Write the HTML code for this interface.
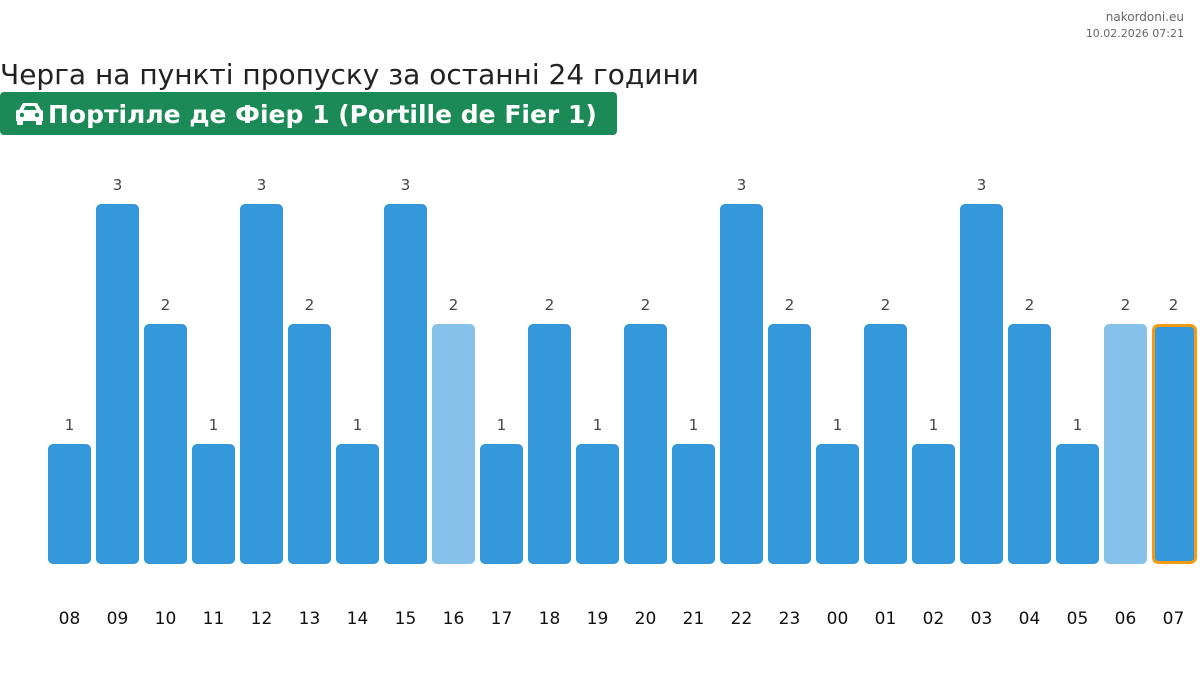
<!DOCTYPE html>
<html><head><meta charset="utf-8"><style>
body{margin:0;background:#fff;width:1200px;height:684px;overflow:hidden;font-family:"DejaVu Sans",sans-serif}
</style></head><body>
<svg width="1200" height="684" xmlns="http://www.w3.org/2000/svg" font-family="DejaVu Sans, sans-serif">
<text x="1184" y="21" font-size="12" fill="#666" text-anchor="end">nakordoni.eu</text>
<text x="1184" y="37" font-size="11" fill="#666" text-anchor="end">10.02.2026 07:21</text>
<text x="0" y="84" font-size="28" fill="#222">Черга на пункті пропуску за останні 24 години</text>
<rect x="0" y="92" width="617" height="43" rx="4" fill="#1b8a56"/>
<g fill="#fff">
<path d="M19 110 L23 103 H37 L41 110 A2 2 0 0 1 43 112 V121 H16 V112 A2 2 0 0 1 19 110 Z M23.5 110 H36.5 L34.5 106 H25.5 Z" fill-rule="evenodd"/>
<rect x="17" y="119" width="6" height="6" rx="1"/><rect x="36" y="119" width="6" height="6" rx="1"/>
<circle cx="22" cy="115" r="2.2" fill="#1b8a56"/><circle cx="37" cy="115" r="2.2" fill="#1b8a56"/>
</g>
<text x="48" y="123" font-size="25" font-weight="bold" fill="#fff">Портілле де Фіер 1 (Portille de Fier 1)</text>
<g id="bars"></g>
</svg>
<script>
var v=[1,3,2,1,3,2,1,3,2,1,2,1,2,1,3,2,1,2,1,3,2,1,2,2];
var l=["08","09","10","11","12","13","14","15","16","17","18","19","20","21","22","23","00","01","02","03","04","05","06","07"];
var g=document.getElementById("bars"),s="";
for(var i=0;i<24;i++){var x=48+i*48,h=v[i]*120,y=564-h;
var c=(i==8||i==22)?"#85c1e9":"#3498db";
if(i==23){s+='<rect x="'+(x+1.5)+'" y="'+(y+1.5)+'" width="42" height="'+(h-3)+'" rx="5" fill="#3498db" stroke="#f39c12" stroke-width="3"/>';}
else s+='<rect x="'+x+'" y="'+y+'" width="43" height="'+h+'" rx="5" fill="'+c+'"/>';
s+='<text x="'+(x+21.5)+'" y="'+(y-14)+'" font-size="15" fill="#444" text-anchor="middle">'+v[i]+'</text>';
s+='<text x="'+(x+21.5)+'" y="624" font-size="17" fill="#111" text-anchor="middle">'+l[i]+'</text>';}
g.innerHTML=s;
</script>
</body></html>
